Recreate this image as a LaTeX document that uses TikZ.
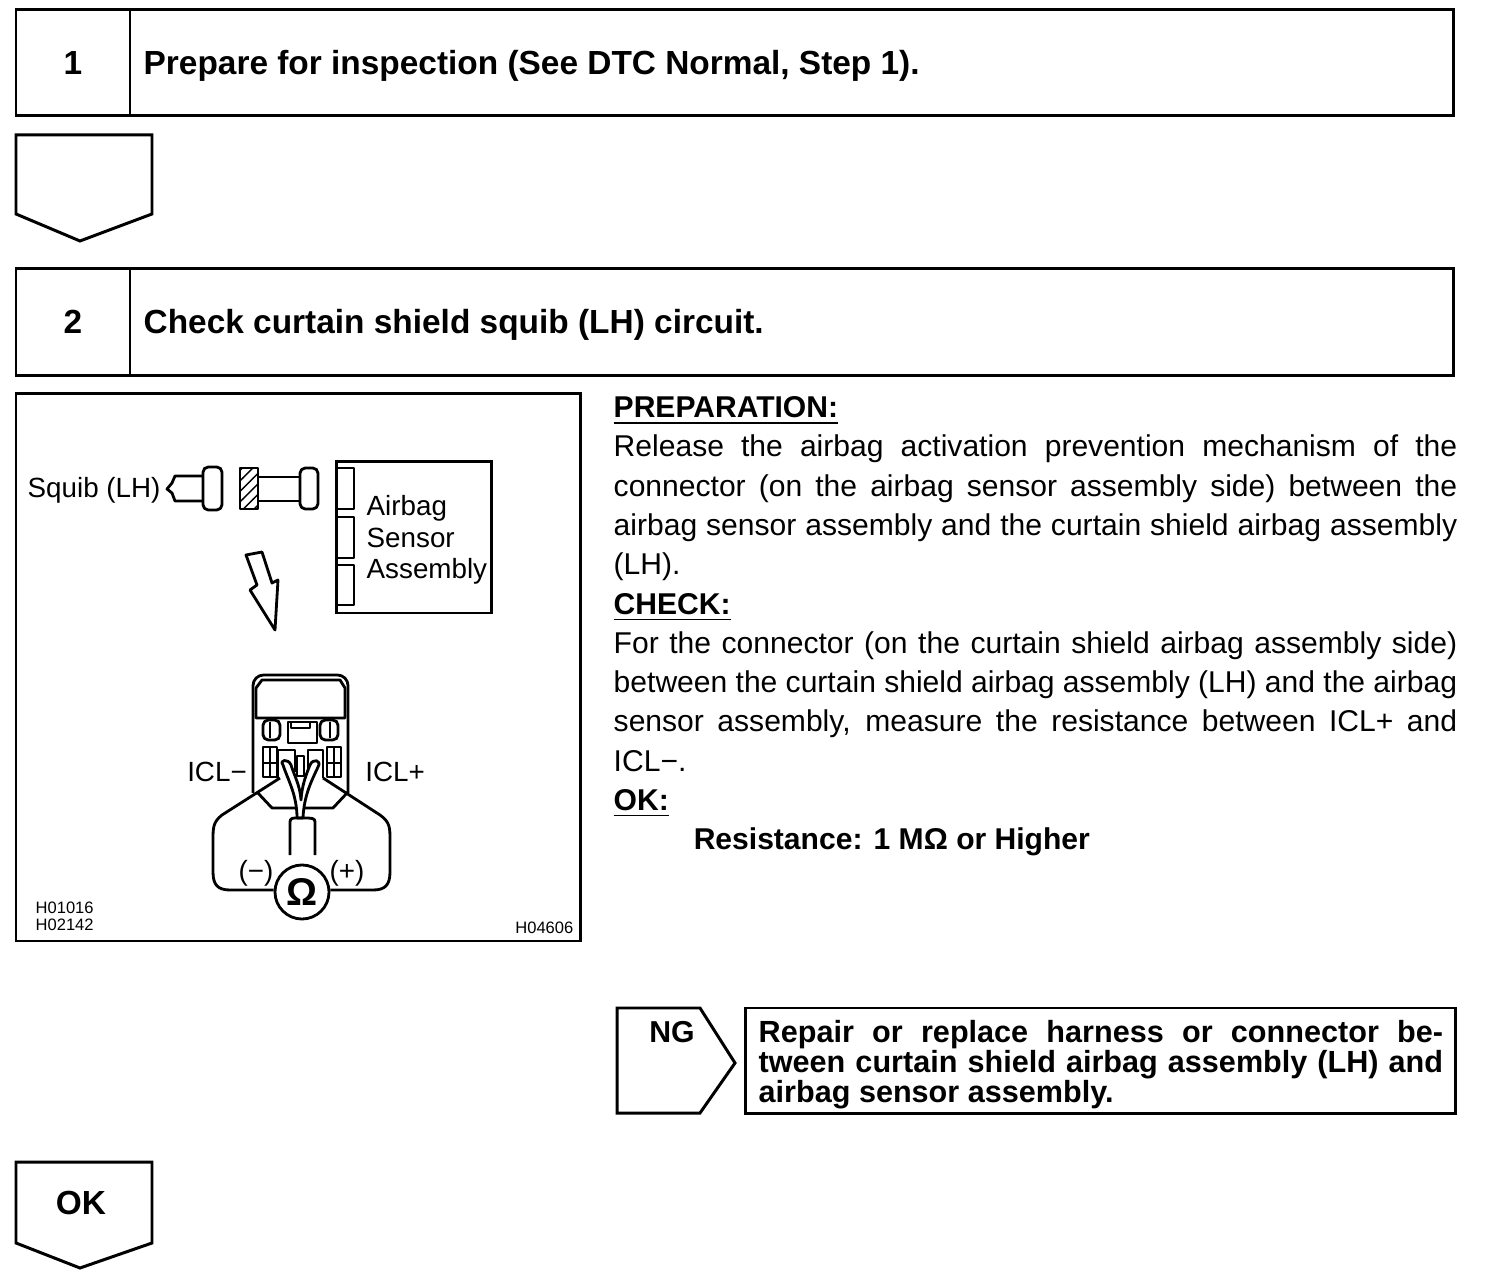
\documentclass[tikz,border=0pt]{standalone}
\usepackage{fontspec}
\setmainfont{Liberation Sans}
\usetikzlibrary{patterns}

\tikzset{
    framebox/.style={line width=0.85pt},
    thinline/.style={line width=0.8pt,line join=round},
    headtext/.style={font=\fontsize{9.5}{12}\selectfont\bfseries,anchor=west,inner sep=0pt},
    figtext/.style={font=\fontsize{7.9}{9}\selectfont,inner sep=0pt},
    codetext/.style={font=\fontsize{4.7}{5}\selectfont,inner sep=0pt}
}

\begin{document}
\begin{tikzpicture}[x=0.01cm,y=-0.01cm]

        \useasboundingbox (0,0) rectangle (1504,1280);

        % step boxes
        \draw[framebox] (16,10) rectangle (1453,116) (130,10) -- (130,116);
        \draw[framebox] (16,269) rectangle (1453,376) (130,269) -- (130,376);
        \node[headtext,anchor=center] (numA) at (73,63) {1};
        \node[headtext,anchor=center] (numB) at (73,322) {2};
        \node[headtext] (stepA) at (143,66) {Prepare for inspection (See DTC Normal, Step 1).};
        \node[headtext] (stepB) at (143,325) {Check curtain shield squib (LH) circuit.};

        % down pentagons
        \draw[framebox] (16,135) -- (152,135) -- (152,214) -- (80,241) -- (16,214) -- cycle;
        \draw[framebox] (16,1162) -- (152,1162) -- (152,1243) -- (80,1268) -- (16,1243) -- cycle;
        \node[headtext,anchor=center] (okLabel) at (81,1203) {OK};

        % figure frame
        \draw[framebox] (16,394) rectangle (580,941);

        % squib and connector halves
        \node[figtext,anchor=base west] (squib) at (27,498) {Squib (LH)};
        \draw[thinline] (203,476) -- (175,476) -- (172,483) -- (167,489) -- (172,493) -- (175,501) -- (203,501);
        \draw[thinline,rounded corners=1.5pt] (203,467) rectangle (222,510);
        \draw[thinline,pattern=north east lines] (240,468) rectangle (258,509);
        \draw[thinline] (258,477) -- (300,477) (258,501) -- (300,501);
        \draw[thinline,rounded corners=1.5pt] (300,468) rectangle (318,509);

        % sensor assembly
        \draw[framebox] (336,462) rectangle (491,613);
        \foreach \ya/\yb in {468/509,517/558,565/605}
            \draw[thinline] (336,\ya) -- (354,\ya) -- (354,\yb) -- (336,\yb);
        \node[figtext,anchor=base west] (airbag) at (366,516) {Airbag};
        \node[figtext,anchor=base west] (sensor) at (366,548) {Sensor};
        \node[figtext,anchor=base west] (assembly) at (366,579) {Assembly};

        % hollow arrow
        \draw[thinline] (246,555) -- (262,552) -- (272,583) -- (278,580) -- (275,630) -- (250,590) -- (257,585) -- cycle;

        % connector body
        \draw[thinline,rounded corners=3pt] (253,793) -- (253,675) -- (348,675) -- (348,793);
        \draw[thinline] (256,718) -- (256,688) -- (262,680) -- (340,680) -- (345,688) -- (345,718) -- cycle;
        \draw[thinline] (288,722) rectangle (317,743) (291,722) rectangle (310,728);
        \draw[thinline,rounded corners=1.5pt] (263,720) rectangle (280,740) (320,720) rectangle (338,740);
        \draw[thinline] (270,722) -- (270,738) (330,722) -- (330,738);
        \foreach \xa in {263,327}{
            \draw[thinline] (\xa,747) rectangle ++(14,30) (\xa,763) -- ++(14,0) (\xa+7,747) -- ++(0,30);
        }
        \draw[thinline] (278,778) -- (278,750) -- (295,750) -- (295,772);
        \draw[thinline] (308,772) -- (308,750) -- (323,750) -- (323,778);
        \draw[thinline] (297,756) rectangle (304,776);

        % housing, wires, cable
        \draw[thinline] (257,792) -- (272,808) -- (333,808) -- (348,792);
        \draw[thinline,fill=white] (283,765) .. controls (279,760) and (288,758) .. (291,765) .. controls (294,775) and (300,785) .. (301,800) .. controls (302,785) and (306,775) .. (310,765) .. controls (313,758) and (322,760) .. (318,767) .. controls (312,780) and (304,795) .. (303,818) -- (297,818) .. controls (297,795) and (288,780) .. (283,765) -- cycle;
        \draw[thinline] (290,855) -- (290,822) .. controls (290,818) and (293,818) .. (297,818) -- (303,818) .. controls (312,818) and (315,818) .. (315,822) -- (315,855);

        % meter leads
        \node[draw,circle,thinline,minimum size=0.54cm,inner sep=0pt,font=\fontsize{11}{12}\selectfont\bfseries] (meter) at (302,892) {Ω};
        \draw[thinline] (280,778) -- (222,815) .. controls (213,822) and (213,828) .. (213,840) -- (213,872) .. controls (213,885) and (218,890) .. (230,890) -- (meter.west |- 0,890);
        \draw[thinline] (323,778) -- (380,815) .. controls (390,822) and (390,828) .. (390,840) -- (390,872) .. controls (390,885) and (385,890) .. (373,890) -- (meter.east |- 0,890);

        \node[figtext] (iclMinus) at (217,772) {ICL−};
        \node[figtext] (iclPlus) at (395,772) {ICL+};
        \node[figtext] (leadMinus) at (256,873) {(−)};
        \node[figtext] (leadPlus) at (347,873) {(+)};

        \node[codetext,anchor=west] (codeA) at (35,908) {H01016};
        \node[codetext,anchor=west] (codeB) at (35,925) {H02142};
        \node[codetext,anchor=east] (codeC) at (574,928) {H04606};

        % right hand text
        \node[anchor=north west,inner sep=0pt,text width=8.43cm,align=justify,
              font=\fontsize{8.55}{11.17}\selectfont] (bodyText) at (613,396) {%
            \textbf{\underline{PREPARATION:}}\linebreak
            Release the airbag activation prevention mechanism of the\linebreak
            connector (on the airbag sensor assembly side) between the\linebreak
            airbag sensor assembly and the curtain shield airbag assembly\linebreak
            (LH).\hfill\linebreak
            \textbf{\underline{CHECK:}}\linebreak
            For the connector (on the curtain shield airbag assembly side)\linebreak
            between the curtain shield airbag assembly (LH) and the airbag\linebreak
            sensor assembly, measure the resistance between ICL+ and\linebreak
            ICL−.\hfill\linebreak
            \textbf{\underline{OK:}}\linebreak
            \hspace*{0.8cm}\textbf{Resistance: 1 MΩ or Higher}\par};

        % NG branch
        \draw[framebox] (617,1008) -- (700,1008) -- (735,1063) -- (700,1113) -- (617,1113) -- cycle;
        \node[font=\fontsize{8.6}{10}\selectfont\bfseries,inner sep=0pt] (ngLabel) at (672,1032) {NG};
        \draw[framebox] (745,1008) rectangle (1455,1113);
        \node[anchor=north west,inner sep=0pt,text width=6.84cm,align=justify,
              font=\fontsize{8.7}{8.5}\selectfont\bfseries] (repairText) at (758,1020) {%
            Repair or replace harness or connector be-\linebreak
            tween curtain shield airbag assembly (LH) and\linebreak
            airbag sensor assembly.\hfill\par};

\end{tikzpicture}
\end{document}
